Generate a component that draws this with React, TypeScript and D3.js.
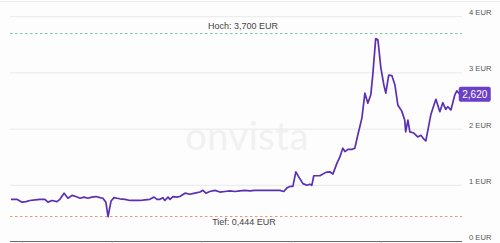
import React from "react";
import * as d3 from "d3";

// ---- data ----
const startDate = "2019-11-16";
const endDate = "2024-11-16";
const dayOffsets = [
  0, 24, 45, 61, 77, 98, 118, 138, 150, 167, 187, 199, 216, 232, 248, 264, 281, 297, 313, 329,
  346, 362, 374, 386, 395, 407, 419, 431, 443, 464, 484, 504, 525, 545, 565, 582, 594, 606, 618, 626,
  639, 647, 659, 675, 687, 708, 728, 748, 769, 781, 793, 809, 830, 850, 870, 891, 911, 931, 952, 972,
  992, 1013, 1033, 1053, 1094, 1110, 1122, 1135, 1147, 1159, 1175, 1188, 1204, 1216, 1224, 1232, 1257, 1281, 1297, 1310,
  1326, 1338, 1350, 1359, 1371, 1387, 1399, 1411, 1428, 1440, 1452, 1464, 1472, 1484, 1493, 1505, 1517, 1525, 1537, 1550,
  1562, 1574, 1590, 1602, 1606, 1615, 1623, 1639, 1655, 1668, 1680, 1688, 1708, 1721, 1729, 1745, 1757, 1769, 1777, 1790,
  1806, 1814, 1826,
];
const prices = [
  0.75, 0.75, 0.70, 0.71, 0.73, 0.74, 0.75, 0.75, 0.70, 0.73, 0.71, 0.75, 0.86, 0.77, 0.82, 0.80, 0.77, 0.79, 0.77, 0.79,
  0.80, 0.78, 0.77, 0.70, 0.444, 0.72, 0.78, 0.77, 0.76, 0.75, 0.73, 0.73, 0.73, 0.74, 0.75, 0.79, 0.75, 0.75, 0.78, 0.73,
  0.79, 0.75, 0.80, 0.79, 0.80, 0.86, 0.84, 0.86, 0.88, 0.91, 0.86, 0.89, 0.91, 0.88, 0.89, 0.90, 0.89, 0.90, 0.91, 0.90,
  0.91, 0.91, 0.91, 0.91, 0.91, 0.89, 0.95, 0.98, 0.98, 1.24, 1.12, 1.03, 1.00, 1.02, 1.00, 1.17, 1.17, 1.23, 1.24, 1.20,
  1.39, 1.50, 1.66, 1.60, 1.64, 1.64, 1.66, 1.89, 2.20, 2.64, 2.46, 2.61, 2.96, 3.61, 3.59, 3.09, 2.79, 2.64, 2.96, 2.95,
  2.79, 2.43, 2.32, 2.16, 1.95, 2.16, 1.95, 1.93, 1.86, 1.89, 1.82, 1.79, 2.25, 2.43, 2.53, 2.31, 2.47, 2.35, 2.40, 2.34,
  2.61, 2.68, 2.62,
];
const yTicks = [0, 1, 2, 3, 4];
const highValue = 3.7;
const lowValue = 0.444;
const highLabel = "Hoch: 3,700 EUR";
const lowLabel = "Tief: 0,444 EUR";
const lastLabel = "2,620";
const watermark = "onvista";

const W = 500;
const H = 243;

export default function App() {
  const parse = d3.timeParse("%Y-%m-%d");
  const t0 = parse(startDate) as Date;
  const t1 = parse(endDate) as Date;
  const data = dayOffsets.map((d, i) => ({ date: d3.timeDay.offset(t0, d), v: prices[i] }));

  const x = d3.scaleTime().domain([t0, t1]).range([11, 460]);
  const y = d3.scaleLinear().domain([0, 4]).range([241.5, 16.7]);
  const gx0 = 10;
  const gx1 = 462;

  const line = d3
    .line<{ date: Date; v: number }>()
    .x((d) => x(d.date))
    .y((d) => y(d.v))
    .curve(d3.curveLinear);

  const last = data[data.length - 1];
  const years = x.ticks(d3.timeYear.every(1));
  const font = "'Liberation Sans', Arial, sans-serif";

  return (
    <svg
      width={W}
      height={H}
      style={{ position: "absolute", left: 0, top: 0, background: "#fdfdfd" }}
    >
      <line x1={0} x2={W} y1={1.5} y2={1.5} stroke="#efefef" strokeWidth={1} />
      <text
        x={247}
        y={150}
        textAnchor="middle"
        fontFamily="Lato, 'Open Sans', sans-serif"
        fontWeight={400}
        fontSize={38}
        letterSpacing={0.5}
        fill="#f1f1f1"
      >
        {watermark}
      </text>
      {yTicks.map((t) => (
        <g key={t}>
          {t > 0 && (
            <line x1={gx0} x2={gx1} y1={y(t)} y2={y(t)} stroke="#e9e9e9" strokeWidth={1} />
          )}
          <text x={469} y={y(t) - 1.5} fontFamily={font} fontSize={7.6} fill="#555">
            {`${t} EUR`}
          </text>
        </g>
      ))}
      <line x1={gx0} x2={gx1} y1={y(0)} y2={y(0)} stroke="#6a6a6a" strokeWidth={1.2} />
      {years.map((d, i) => (
        <line key={i} x1={x(d)} x2={x(d)} y1={y(0)} y2={y(0) + 2} stroke="#bbb" strokeWidth={1} />
      ))}
      <line
        x1={gx0}
        x2={gx1}
        y1={y(highValue)}
        y2={y(highValue)}
        stroke="#7cc4a4"
        strokeWidth={1}
        strokeDasharray="2.5,2.5"
      />
      <text x={243} y={y(highValue) - 5} textAnchor="middle" fontFamily={font} fontSize={9} fill="#444">
        {highLabel}
      </text>
      <line
        x1={gx0}
        x2={gx1}
        y1={y(lowValue)}
        y2={y(lowValue)}
        stroke="#e3957a"
        strokeWidth={1}
        strokeDasharray="2.5,2.5"
      />
      <text x={244} y={y(lowValue) + 8} textAnchor="middle" fontFamily={font} fontSize={9} fill="#444">
        {lowLabel}
      </text>
      <path d={line(data) || ""} fill="none" stroke="#5a30b3" strokeWidth={1.7} strokeLinejoin="round" />
      <rect x={x(last.date) - 1} y={y(last.v) - 7.5} width={32} height={15} rx={2} fill="#6b3fc7" />
      <text
        x={x(last.date) + 15}
        y={y(last.v) + 3.5}
        textAnchor="middle"
        fontFamily={font}
        fontSize={10}
        fill="#fff"
      >
        {lastLabel}
      </text>
    </svg>
  );
}
